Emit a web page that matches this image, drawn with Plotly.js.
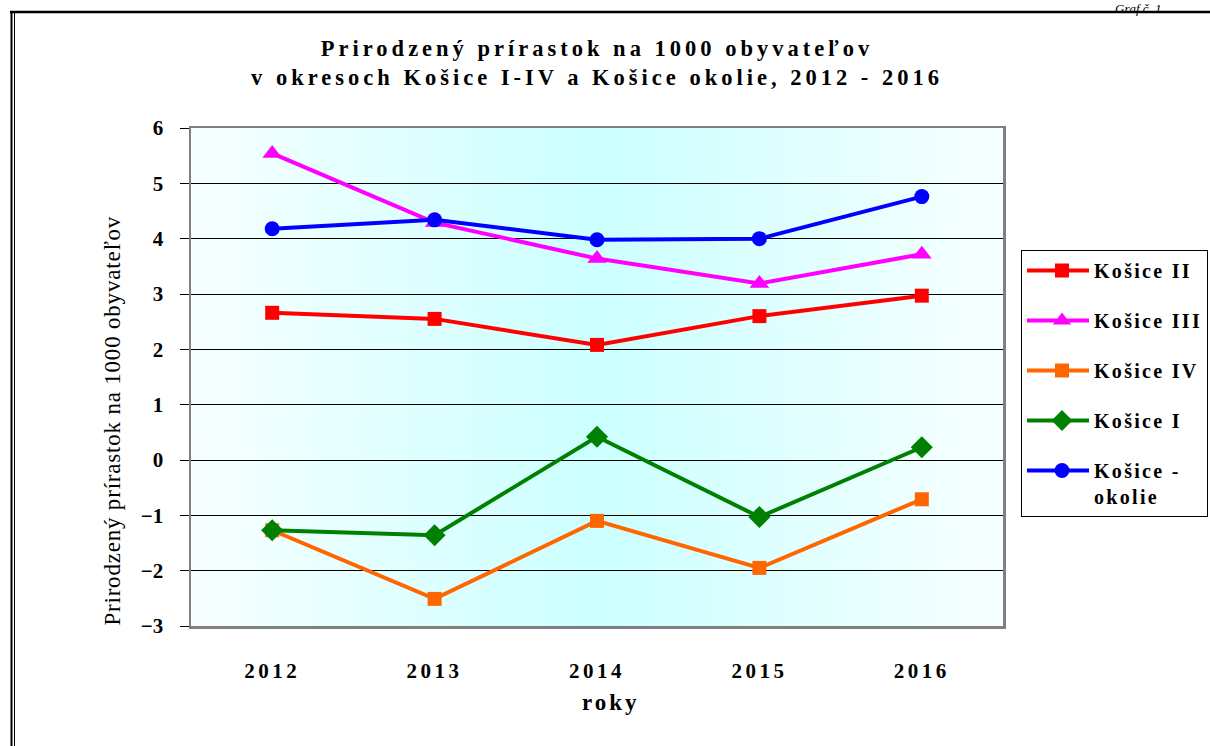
<!DOCTYPE html>
<html>
<head>
<meta charset="utf-8">
<script src="https://cdn.plot.ly/plotly-3.0.1.min.js"></script>
<style>
  html, body { margin: 0; padding: 0; background: #ffffff; }
  #chart { width: 1210px; height: 746px; }
  .gtitle { letter-spacing: 4px; }
  .xtick text { letter-spacing: 3.5px; }
  .legendtext { letter-spacing: 2.3px; }
  .legendsymbols path.scatterpts { transform: translate(40px, 0px); }
</style>
</head>
<body>
<div id="chart"></div>
<script>
// ---- data ----
const years = ['2012', '2013', '2014', '2015', '2016'];
const kosiceII = [2.66, 2.55, 2.08, 2.60, 2.97];
const kosiceIII = [5.54, 4.29, 3.64, 3.19, 3.72];
const kosiceIV = [-1.27, -2.51, -1.10, -1.95, -0.71];
const kosiceI = [-1.27, -1.36, 0.42, -1.03, 0.23];
const kosiceOkolie = [4.18, 4.34, 3.98, 4.00, 4.76];
const yTicks = [-3, -2, -1, 0, 1, 2, 3, 4, 5, 6];

// ---- layout geometry (pixels) ----
const W = 1210, H = 746;
const L = 191, R = 1003, T = 128, B = 626;
const px = x => (x - L) / (R - L);
const py = y => (B - y) / (B - T);

// gradient background image
function gradientURL() {
  const c = document.createElement('canvas');
  c.width = 400; c.height = 4;
  const g = c.getContext('2d');
  const grd = g.createLinearGradient(0, 0, 400, 0);
  grd.addColorStop(0, '#f7ffff');
  grd.addColorStop(0.5, '#ccffff');
  grd.addColorStop(1, '#f7ffff');
  g.fillStyle = grd;
  g.fillRect(0, 0, 400, 4);
  return c.toDataURL('image/png');
}

const serif = '"Liberation Serif", "Times New Roman", serif';

function tr(name, y, color, symbol, size) {
  return {
    type: 'scatter', mode: 'lines+markers', name: name, legendgroup: name,
    x: years, y: y,
    line: { color: color, width: 4 },
    marker: { color: color, symbol: symbol, size: size, line: { width: 0 } },
    cliponaxis: false
  };
}

const data = [
  tr('Košice II', kosiceII, '#ff0000', 'square', 14),
  tr('Košice III', kosiceIII, '#ff00ff', 'triangle-up', 17),
  tr('Košice IV', kosiceIV, '#ff6600', 'square', 14),
  tr('Košice I', kosiceI, '#008000', 'diamond', 17),
  tr('Košice -<br>okolie', kosiceOkolie, '#0000ff', 'circle', 15)
];

const layout = {
  width: W, height: H,
  margin: { l: L, r: W - R, t: T, b: H - B, pad: 0, autoexpand: false },
  paper_bgcolor: '#ffffff',
  plot_bgcolor: 'rgba(0,0,0,0)',
  font: { family: serif, color: '#000000', size: 20 },
  title: {
    text: '<b>Prirodzený prírastok na 1000 obyvateľov<br>v okresoch Košice I-IV a Košice okolie, 2012 - 2016</b>',
    font: { family: serif, size: 22.5, color: '#000000' },
    x: 0.5, xanchor: 'center', xref: 'paper',
    y: 1 - 56 / H, yanchor: 'middle'
  },
  xaxis: {
    type: 'category',
    range: [-0.5, 4.5],
    showgrid: false, zeroline: false,
    showline: true, linecolor: '#808080', linewidth: 2.5, mirror: true,
    ticks: '',
    ticklabelstandoff: 24,
    tickfont: { family: serif, size: 21, weight: 'bold', color: '#000000' },
    fixedrange: true
  },
  yaxis: {
    range: [-3, 6],
    tickvals: yTicks,
    showgrid: true, gridcolor: '#000000', gridwidth: 1,
    zeroline: true, zerolinecolor: '#000000', zerolinewidth: 1,
    showline: true, linecolor: '#808080', linewidth: 2.5, mirror: true,
    ticks: 'outside', ticklen: 9, tickcolor: '#000000', tickwidth: 1,
    ticklabelstandoff: 12,
    tickfont: { family: serif, size: 21, weight: 'bold', color: '#000000' },
    fixedrange: true
  },
  legend: {
    x: px(1021), xanchor: 'left',
    y: py(250), yanchor: 'top',
    bgcolor: '#ffffff', bordercolor: '#000000', borderwidth: 1,
    font: { family: serif, size: 20, weight: 'bold', color: '#000000' },
    tracegroupgap: 21,
    valign: 'top',
    itemwidth: 62
  },
  showlegend: true,
  images: [{
    source: gradientURL(),
    xref: 'paper', yref: 'paper',
    x: 0, y: 1, sizex: 1, sizey: 1,
    xanchor: 'left', yanchor: 'top',
    sizing: 'stretch', layer: 'below'
  }],
  annotations: [
    {
      text: 'Prirodzený prírastok na 1000 obyvateľov',
      xref: 'paper', yref: 'paper',
      x: px(112), y: py(421), xanchor: 'center', yanchor: 'middle',
      textangle: -90, showarrow: false,
      font: { family: serif, size: 23, color: '#000000' }
    },
    {
      text: '<b>roky</b>',
      xref: 'paper', yref: 'paper',
      x: px(611), y: py(702), xanchor: 'center', yanchor: 'middle',
      showarrow: false,
      font: { family: serif, size: 23, color: '#000000' }
    },
    {
      text: '<i>Graf č. 1</i>',
      xref: 'paper', yref: 'paper',
      x: px(1113), y: py(-1), xanchor: 'left', yanchor: 'top',
      showarrow: false,
      font: { family: serif, size: 13, color: '#000000' }
    }
  ],
  shapes: [
    { type: 'line', xref: 'paper', yref: 'paper', x0: px(10), x1: px(1215), y0: py(12), y1: py(12), line: { color: '#000000', width: 2.5 } },
    { type: 'line', xref: 'paper', yref: 'paper', x0: px(11.5), x1: px(11.5), y0: py(12), y1: py(750), line: { color: '#000000', width: 2 } },
    { type: 'line', xref: 'paper', yref: 'paper', x0: px(14.5), x1: px(14.5), y0: py(13), y1: py(750), line: { color: '#000000', width: 1 } }
  ]
};

Plotly.newPlot('chart', data, layout, { displayModeBar: false, staticPlot: true }).then(function () {
  // widen annotation text spacing for the axis titles
  document.querySelectorAll('.annotation-text').forEach(function (t, i) {
    if (i === 0) t.style.letterSpacing = '0.8px';
    if (i === 1) t.style.letterSpacing = '3px';
  });
});
</script>
</body>
</html>
